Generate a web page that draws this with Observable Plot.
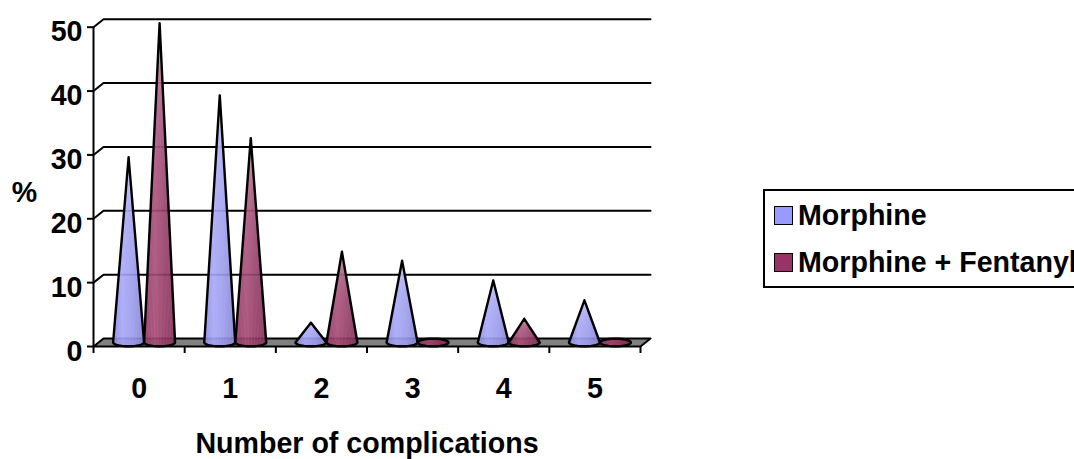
<!DOCTYPE html>
<html><head><meta charset="utf-8">
<script src="https://cdn.jsdelivr.net/npm/d3@7"></script>
<script src="https://cdn.jsdelivr.net/npm/@observablehq/plot@0.6"></script>
<style>
html,body{margin:0;padding:0;background:#fff;}
#wrap{position:relative;width:1074px;height:459px;overflow:hidden;font-family:"Liberation Sans",Arial,sans-serif;font-weight:700;color:#000;}
#legend{position:absolute;left:763px;top:189px;width:340px;height:95px;border:2px solid #000;box-sizing:content-box;}
#legend .row{position:absolute;left:9px;display:flex;align-items:center;font-size:28.6px;white-space:nowrap;line-height:28px;}
#legend .sw{width:17px;height:17px;border:1.5px solid #000;margin-right:5px;}
</style></head><body>
<div id="wrap"><div id="chart"></div>
<div id="legend"></div></div>
<script>
const categories = ["0","1","2","3","4","5"];
const morphine = [29, 38.7, 3.1, 12.8, 9.7, 6.6];
const fentanyl = [50, 32, 14.2, 0, 3.7, 0];
const seriesNames = ["Morphine","Morphine + Fentanyl"];
const seriesColors = ["#9999FF","#993366"];
const yTicks = [0,10,20,30,40,50];
const xBoundaries = [0,1,2,3,4,5,6];
const xTitle = "Number of complications";
const yTitle = "%";

// 3-D projection, in data units
const depthX = 0.11, depthY = 1.25;
const coneOffset = 0.17, coneHalfWidth = 0.17, coneBase = 0.63, ellipseY = 0.6;

const grid = yTicks.slice(1).flatMap(v => [
  {id:v, x:0, y:v},
  {id:v, x:depthX, y:v+depthY},
  {id:v, x:6+depthX, y:v+depthY}
]);
const floor = [{x:0,y:0},{x:depthX,y:depthY},{x:6+depthX,y:depthY},{x:6,y:0},{x:0,y:0}];

function cone(v, cat, s){
  const cx = cat + 0.5 + depthX/2 + (s===0 ? -coneOffset : coneOffset);
  const id = `${s}-${cat}`, pts = [];
  if (v > 0) pts.push({id, x:cx, y:coneBase+v});
  const steps = v > 0 ? 14 : 28;
  for (let i=0;i<=steps;i++){
    const t = Math.PI*(i/14);
    pts.push({id, x:cx+coneHalfWidth*Math.cos(t), y:coneBase-ellipseY*Math.sin(t)});
  }
  pts.push(pts[0]);
  return pts;
}
function fan(v, cat, s){
  if (!(v > 0)) return [];
  const cx = cat + 0.5 + depthX/2 + (s===0 ? -coneOffset : coneOffset);
  return d3.range(-0.85,0.86,0.1).map(k => {
    const a = Math.acos(k);
    return {x1:cx, y1:coneBase+v, x2:cx+coneHalfWidth*k, y2:coneBase-ellipseY*Math.sin(a)};
  });
}
const series = [morphine, fentanyl];
const conesBySeries = series.map((vals,s)=>vals.flatMap((v,c)=>cone(v,c,s)));
const fansBySeries = series.map((vals,s)=>vals.flatMap((v,c)=>fan(v,c,s)));

function gradient(id, stops){
  const defs = document.createElementNS("http://www.w3.org/2000/svg","defs");
  const g = document.createElementNS("http://www.w3.org/2000/svg","linearGradient");
  g.setAttribute("id",id);
  stops.forEach(([o,c])=>{
    const st = document.createElementNS("http://www.w3.org/2000/svg","stop");
    st.setAttribute("offset",o); st.setAttribute("stop-color",c); g.appendChild(st);
  });
  defs.appendChild(g);
  return defs;
}

const coneMarks = s => [
  Plot.line(conesBySeries[s], {x:"x", y:"y", z:"id", curve:"linear", fill:`url(#g${s})`, fillOpacity:0.9, stroke:"none"}),
  Plot.link(fansBySeries[s], {x1:"x1", y1:"y1", x2:"x2", y2:"y2", stroke:"#fff", strokeWidth:0.8, strokeOpacity:0.12}),
  Plot.line(conesBySeries[s], {x:"x", y:"y", z:"id", curve:"linear", fill:"none", stroke:"#000", strokeWidth:2.4, strokeLinejoin:"round"})
];

const chart = Plot.plot({
  width:1074, height:459,
  marginLeft:93, marginRight:434, marginTop:26.7, marginBottom:113,
  style:{fontFamily:"'Liberation Sans',Arial,sans-serif", fontWeight:700, fontSize:"28.6px", color:"#000", background:"transparent", overflow:"visible"},
  x:{type:"linear", domain:[0,6]},
  y:{type:"linear", domain:[0,50]},
  marks:[
    () => gradient("g0",[[0,"#8484dc"],[0.3,"#a0a0f8"],[0.65,"#9292ea"],[1,"#7c7cd0"]]),
    () => gradient("g1",[[0,"#872a58"],[0.35,"#a03e6b"],[0.65,"#8e2e5c"],[1,"#7a224c"]]),
    Plot.line(floor,{x:"x",y:"y",fill:"#808080",stroke:"#000",strokeWidth:2}),
    Plot.line(grid,{x:"x",y:"y",z:"id",stroke:"#000",strokeWidth:2}),
    Plot.ruleX([0],{y1:0,y2:50,stroke:"#000",strokeWidth:2}),
    Plot.axisY({ticks:yTicks, tickSize:6, text:null, stroke:"#000", strokeWidth:2, strokeOpacity:1, label:null}),
    Plot.axisY({ticks:yTicks, tickSize:0, tickPadding:11, dy:5, label:null, fontSize:28.6}),
    Plot.axisX({ticks:xBoundaries, tickSize:7, text:null, stroke:"#000", strokeWidth:2, strokeOpacity:1, label:null}),
    Plot.text(categories,{x:(d,i)=>i+0.5, y:0, text:d=>d, dy:42, fontSize:28.6, fill:"#000"}),
    Plot.text([xTitle],{x:3.0, y:0, dy:97, fontSize:28.6, fill:"#000"}),
    Plot.text([yTitle],{x:0, y:24, dx:-69, dy:0, fontSize:28.6, fill:"#000"}),
    ...coneMarks(0),
    ...coneMarks(1)
  ]
});
document.getElementById("chart").appendChild(chart);

const legend = document.getElementById("legend");
seriesNames.forEach((n,i)=>{
  const r = document.createElement("div");
  r.className="row"; r.style.top=(i===0?10:57)+"px";
  const sw = document.createElement("span"); sw.className="sw"; sw.style.background=seriesColors[i];
  const t = document.createElement("span"); t.textContent=n;
  r.append(sw,t); legend.appendChild(r);
});
</script>
</body></html>
